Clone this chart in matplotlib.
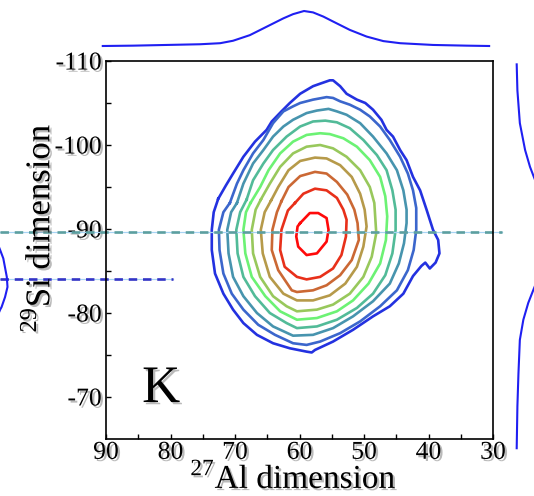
import matplotlib

matplotlib.use("Agg")
import matplotlib.patheffects as pe
import matplotlib.pyplot as plt
import numpy as np


contour_1 = [(72.6, -93.6), (71.4, -95.2), (70.3, -96.6), (68.7, -98.6), (66.9, -100.4),
             (65.1, -101.8), (64.3, -102.8), (62.8, -104.0), (61.5, -105.0), (59.9, -106.1),
             (57.9, -107.0), (56.8, -107.3), (55.3, -107.7), (54.8, -107.7), (53.7, -107.0),
             (52.7, -106.1), (51.1, -105.4), (49.8, -105.0), (48.6, -104.2), (47.3, -103.0),
             (46.5, -101.8), (45.5, -101.0), (44.4, -99.4), (43.4, -98.2), (42.4, -96.2),
             (41.3, -94.6), (40.3, -92.3), (39.8, -91.1), (39.3, -89.9), (38.5, -88.7),
             (38.3, -87.1), (38.9, -86.0), (39.8, -85.3), (40.5, -86.0), (41.1, -85.6),
             (42.4, -84.4), (43.9, -82.3), (46.0, -80.8), (48.6, -79.6), (51.7, -78.0),
             (54.8, -76.6), (57.6, -75.6), (58.1, -75.3), (58.9, -75.4), (61.5, -75.8),
             (64.1, -76.4), (66.6, -77.4), (68.7, -78.8), (70.3, -80.4), (71.8, -82.3),
             (73.1, -84.7), (73.6, -87.5), (73.6, -89.9), (73.3, -92.0)]
contour_2 = [(70.8, -93.1), (69.7, -95.4), (68.7, -97.0), (67.2, -99.0), (65.6, -100.6),
             (64.1, -102.6), (62.5, -104.0), (61.0, -104.6), (59.9, -105.0), (57.9, -105.4),
             (55.8, -105.7), (54.8, -105.6), (53.7, -105.2), (52.2, -104.8), (50.6, -104.2),
             (49.1, -103.4), (47.5, -102.2), (46.0, -100.6), (44.4, -98.6), (43.2, -96.6),
             (42.4, -94.6), (41.9, -92.5), (41.9, -89.9), (42.3, -87.5), (43.2, -85.1),
             (44.9, -82.7), (47.5, -80.8), (50.6, -79.0), (53.7, -77.6), (56.8, -76.6),
             (58.9, -76.2), (61.0, -76.4), (63.8, -77.4), (66.4, -78.6), (68.7, -80.4),
             (70.5, -82.3), (71.8, -84.7), (72.4, -87.5), (72.5, -89.9), (71.8, -92.0)]
contour_3 = [(69.7, -93.1), (68.7, -95.4), (67.2, -97.8), (65.6, -99.4), (64.1, -101.0),
             (62.5, -102.2), (61.0, -103.0), (58.9, -103.8), (57.3, -104.1), (55.5, -104.3),
             (54.2, -104.0), (52.7, -103.6), (50.6, -102.6), (48.6, -101.0), (46.5, -99.0),
             (44.9, -97.0), (43.9, -94.6), (43.4, -92.3), (43.4, -90.7), (43.8, -88.3),
             (44.6, -85.9), (46.0, -83.5), (48.6, -81.4), (51.7, -79.6), (54.8, -78.2),
             (57.9, -77.4), (61.0, -77.3), (64.1, -78.4), (66.6, -80.0), (68.7, -82.0),
             (70.3, -84.3), (71.0, -87.1), (71.2, -89.9), (70.6, -92.0)]
contour_4 = [(68.2, -93.5), (67.2, -95.8), (65.6, -97.8), (64.1, -99.4), (62.0, -101.0),
             (59.9, -102.2), (57.9, -102.8), (56.0, -102.9), (54.2, -102.7), (52.2, -102.0),
             (50.1, -100.6), (48.0, -98.8), (46.5, -97.0), (45.6, -94.6), (45.1, -92.3),
             (45.1, -89.9), (45.6, -87.1), (46.7, -84.5), (48.6, -82.3), (51.1, -80.6),
             (54.2, -79.2), (57.3, -78.4), (60.4, -78.2), (62.0, -78.8), (64.6, -80.0),
             (66.9, -82.0), (68.7, -84.3), (69.6, -87.1), (69.8, -89.9), (69.2, -92.0)]
contour_5 = [(67.6, -93.1), (66.1, -95.0), (64.8, -97.0), (63.0, -99.0), (61.0, -100.4),
             (58.9, -101.2), (56.8, -101.4), (55.3, -101.3), (53.2, -100.8), (51.1, -99.8),
             (49.1, -98.2), (47.5, -96.2), (46.7, -93.9), (46.4, -91.5), (46.6, -88.7),
             (47.5, -85.9), (49.3, -83.5), (51.7, -81.5), (54.2, -80.2), (57.3, -79.4),
             (60.4, -79.2), (63.0, -80.2), (65.3, -82.0), (67.4, -84.3), (68.4, -87.1),
             (68.7, -89.9), (68.3, -92.0)]
contour_6 = [(66.0, -93.5), (64.6, -95.4), (63.0, -97.4), (61.0, -99.0), (58.9, -99.8),
             (56.8, -100.0), (54.8, -99.6), (52.7, -98.6), (50.6, -97.0), (49.1, -95.0),
             (48.4, -93.1), (48.1, -89.5), (48.8, -86.7), (50.1, -84.3), (52.2, -82.3),
             (54.8, -81.0), (57.3, -80.4), (60.4, -80.2), (62.0, -80.8), (64.1, -82.0),
             (66.1, -84.3), (67.2, -87.1), (67.4, -89.9), (66.8, -92.3)]
contour_7 = [(64.4, -93.4), (63.3, -95.0), (61.7, -97.0), (59.9, -98.1), (57.6, -98.5),
             (55.8, -98.4), (53.7, -97.6), (51.9, -96.2), (50.6, -94.2), (49.9, -92.3),
             (49.6, -90.3), (50.1, -87.9), (51.1, -85.5), (52.9, -83.5), (55.3, -82.1),
             (57.9, -81.5), (60.4, -81.5), (62.5, -82.3), (64.6, -84.3), (65.7, -87.1),
             (66.0, -89.9), (65.4, -92.0)]
contour_8 = [(62.8, -93.3), (61.7, -95.0), (59.9, -96.3), (57.6, -96.8), (55.8, -96.6),
             (54.2, -95.6), (52.6, -94.1), (51.5, -92.3), (51.0, -90.7), (50.8, -88.7),
             (51.9, -86.3), (53.7, -84.5), (55.8, -83.3), (57.9, -82.7), (60.4, -82.5),
             (61.2, -82.7), (63.3, -85.1), (64.3, -87.5), (64.2, -89.9), (63.5, -92.0)]
contour_9 = [(60.7, -93.1), (59.4, -94.2), (57.6, -94.8), (55.8, -94.6), (54.2, -93.7),
             (53.2, -92.3), (52.7, -91.1), (52.8, -89.1), (53.5, -86.9), (54.8, -85.3),
             (56.8, -84.3), (58.9, -84.0), (60.4, -84.3), (62.3, -85.5), (63.0, -87.5),
             (62.8, -89.9), (61.8, -92.2)]
contour_10 = [(59.9, -90.7), (58.4, -91.9), (57.1, -91.9), (55.8, -91.3), (55.5, -89.9),
              (55.8, -88.5), (57.3, -87.1), (58.9, -86.9), (60.2, -87.9), (60.5, -89.1),
              (60.3, -90.3)]

# 27Al projection above the panel (relative intensity)
top_al_ppm = [90.5, 85.8, 80.6, 75.4, 72.3, 70.3, 67.7, 65.1, 62.5, 61.0, 59.3,
              57.9, 56.3, 54.8, 52.2, 49.6, 47.0, 44.4, 39.3, 34.1, 30.6]
top_intensity = [0.0, 0.01, 0.03, 0.05, 0.08, 0.15, 0.31, 0.55, 0.79, 0.91, 1.0,
                 0.96, 0.84, 0.70, 0.46, 0.27, 0.14, 0.08, 0.03, 0.01, 0.0]

# 29Si projection at the right edge (peak runs off the page)
right_si_ppm = [-109.6, -106.5, -102.6, -99.4, -97.4, -96.2, -93.0, -89.6, -86.0,
                -82.9, -81.2, -79.2, -76.8, -72.8, -68.9, -63.9]
right_intensity = [0.0, 0.02, 0.09, 0.24, 0.38, 0.49, 0.8, 1.0, 0.8,
                   0.49, 0.33, 0.19, 0.09, 0.05, 0.02, 0.0]

# tail of the neighbouring panel's 29Si projection at the left edge
left_si_ppm = [-90.0, -87.5, -86.5, -84.3, -83.1, -81.9, -80.7, -80.4, -78.0]
left_intensity = [0.55, 0.79, 0.88, 0.98, 1.0, 0.93, 0.83, 0.79, 0.55]

# horizontal guide lines (29Si ppm) and their 27Al extent
si_guide_teal = -89.7
si_guide_blue = -84.05
al_guide_start = 106.4
al_guide_teal_end = 28.6
al_guide_blue_end = 79.6

x_ticks = [90, 80, 70, 60, 50, 40, 30]
x_minor_ticks = [85, 75, 65, 55, 45, 35]
y_ticks = [-110, -100, -90, -80, -70]
y_tick_labels = ["-110", "-100", "-90", "-80", "-70"]
y_minor_ticks = [-105, -95, -85, -75]
x_label = r"$^{\mathregular{27}}$Al dimension"
y_label = r"$^{\mathregular{29}}$Si dimension"
panel_label = "K"

CONTOURS = [contour_1, contour_2, contour_3, contour_4, contour_5,
            contour_6, contour_7, contour_8, contour_9, contour_10]
CONTOUR_COLORS = ["#2331e0", "#3b66cc", "#4794ae", "#52bb98", "#6cf274",
                  "#98c85c", "#b69a4a", "#cb6834", "#e8301a", "#ff0a0a"]
PROJ_COLOR = "#1f1ff2"
FIG_W, FIG_H = 534, 496


def px_axes(fig, left, top, right, bottom):
    return fig.add_axes([left / FIG_W, 1 - bottom / FIG_H,
                         (right - left) / FIG_W, (bottom - top) / FIG_H])


def main() -> None:
    plt.rcParams["font.family"] = ["Liberation Serif", "DejaVu Serif"]
    shadow = [pe.withSimplePatchShadow(offset=(1.6, -1.6), shadow_rgbFace="0.4", alpha=0.45)]

    fig = plt.figure(figsize=(FIG_W / 100, FIG_H / 100), dpi=100)

    ax = px_axes(fig, 106, 61, 493, 439)
    for pts, color in zip(CONTOURS, CONTOUR_COLORS):
        arr = np.array(pts + pts[:1])
        ax.plot(arr[:, 0], arr[:, 1], color=color, lw=1.9,
                solid_joinstyle="round", zorder=1.5)

    # guide lines: thin light-blue line with a dashed line on top (below the tick labels)
    for y, x_end, color in [(si_guide_teal, al_guide_teal_end, "#5c9fa0"),
                            (si_guide_blue, al_guide_blue_end, "#3434c6")]:
        ax.plot([al_guide_start, x_end], [y, y], color="#a8d4f4", lw=0.9,
                clip_on=False, zorder=2.1)
        ax.plot([al_guide_start, x_end], [y, y], color=color, lw=1.9,
                dashes=(3.2, 2.2), clip_on=False, zorder=2.2)

    ax.text(84.4, -69.4, panel_label, fontsize=38, ha="left", va="baseline",
            path_effects=shadow)

    ax.set_xlim(90, 30)
    ax.set_ylim(-65, -110)
    ax.set_xticks(x_ticks)
    ax.set_xticks(x_minor_ticks, minor=True)
    ax.set_yticks(y_ticks)
    ax.set_yticklabels(y_tick_labels)
    ax.set_yticks(y_minor_ticks, minor=True)
    ax.tick_params(which="both", direction="in", length=3.5, width=1.0,
                   top=False, right=False)
    ax.tick_params(axis="x", labelsize=18.5, pad=2)
    ax.tick_params(axis="y", labelsize=18.5, pad=3)
    for lab in ax.get_xticklabels() + ax.get_yticklabels():
        lab.set_path_effects(shadow)
    for spine in ax.spines.values():
        spine.set_linewidth(1.2)

    fig.text(293.5 / FIG_W, 1 - 495 / FIG_H, x_label, fontsize=24,
             ha="center", va="bottom", path_effects=shadow)
    fig.text(40 / FIG_W, 1 - 228 / FIG_H, y_label, fontsize=25, rotation=90,
             ha="center", va="center", path_effects=shadow)

    # projections
    top = px_axes(fig, 106, 11, 493, 46)
    top.plot(top_al_ppm, top_intensity, color=PROJ_COLOR, lw=1.5, clip_on=False)
    top.set_xlim(90, 30)
    top.set_ylim(0, 1)
    top.axis("off")

    right = px_axes(fig, 516.7, 61, 551.7, 451)
    right.plot(right_intensity, right_si_ppm, color=PROJ_COLOR, lw=1.5, clip_on=False)
    right.set_xlim(0, 1)
    right.set_ylim(-63.57, -110)
    right.axis("off")

    left = px_axes(fig, -27.5, 61, 7.5, 439)
    left.plot(left_intensity, left_si_ppm, color=PROJ_COLOR, lw=1.5, clip_on=False)
    left.set_xlim(0, 1)
    left.set_ylim(-65, -110)
    left.axis("off")

    fig.savefig("out.png", dpi=100, facecolor="white")
    plt.close(fig)


if __name__ == "__main__":
    main()
